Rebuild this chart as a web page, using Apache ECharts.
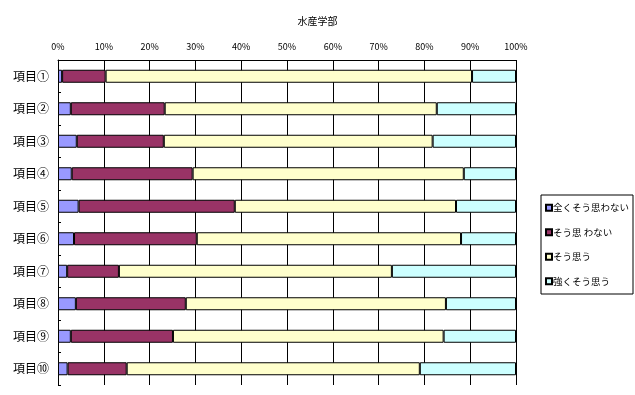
<!DOCTYPE html>
<html><head><meta charset="utf-8">
<script src="https://cdn.jsdelivr.net/npm/echarts@6/dist/echarts.min.js"></script>
<style>html,body{margin:0;padding:0;background:#fff}#c{width:635px;height:395px}</style>
</head><body><div id="c"></div>
<script>
const categories = ['項目①','項目②','項目③','項目④','項目⑤','項目⑥','項目⑦','項目⑧','項目⑨','項目⑩'];
const seriesNames = ['全くそう思わない','そう思 わない','そう思う','強くそう思う'];
const s1 = [0.9, 2.8, 4.1, 3.0, 4.5, 3.5, 2.0, 3.9, 2.8, 2.1];
const s2 = [9.5, 20.5, 19.0, 26.4, 34.1, 26.8, 11.3, 24.0, 22.3, 12.9];
const s3 = [80.0, 59.4, 58.7, 59.2, 48.3, 57.7, 59.6, 56.8, 59.1, 64.0];
const s4 = [9.6, 17.3, 18.2, 11.4, 13.1, 12.0, 27.1, 15.3, 15.8, 21.0];
const colors = ['#9999FF','#993366','#FFFFCC','#CCFFFF'];
const font = '"Noto Sans CJK JP", sans-serif';
const chart = echarts.init(document.getElementById('c'));
const data = [s1, s2, s3, s4];
chart.setOption({
  animation: false,
  title: {text: '水産学部', left: 'center', top: 11, textStyle: {fontFamily: font, fontSize: 10, fontWeight: 'normal', color: '#000'}},
  legend: {
    orient: 'vertical', left: 541, top: 195, width: 87, height: 97,
    padding: [8, 4, 8, 4], itemGap: 15, itemWidth: 6, itemHeight: 6,
    borderColor: '#000', borderWidth: 1, icon: 'rect',
    textStyle: {fontFamily: font, fontSize: 9.5, color: '#000', padding: [0,0,0,-4]},
    data: seriesNames
  },
  grid: {left: 58, right: 119, top: 60, bottom: 10, containLabel: false},
  xAxis: {
    type: 'value', position: 'top', min: 0, max: 100, interval: 10,
    axisLine: {show: true, lineStyle: {color: '#000', width: 1}},
    axisTick: {show: false},
    axisLabel: {formatter: '{value}%', fontFamily: font, fontSize: 9, color: '#000', margin: 9},
    splitLine: {show: true, lineStyle: {color: '#000', width: 1}}
  },
  yAxis: {
    type: 'category', inverse: true, data: categories,
    axisLine: {show: true, lineStyle: {color: '#000', width: 1}},
    axisTick: {show: true, inside: true, length: 3, lineStyle: {color: '#000'}},
    axisLabel: {fontFamily: font, fontSize: 12, color: '#000', margin: 9}
  },
  series: seriesNames.map((n, i) => ({
    name: n, type: 'bar', stack: 'total', barWidth: 13,
    itemStyle: {color: colors[i], borderColor: '#000', borderWidth: 1},
    data: data[i]
  }))
});
</script></body></html>
